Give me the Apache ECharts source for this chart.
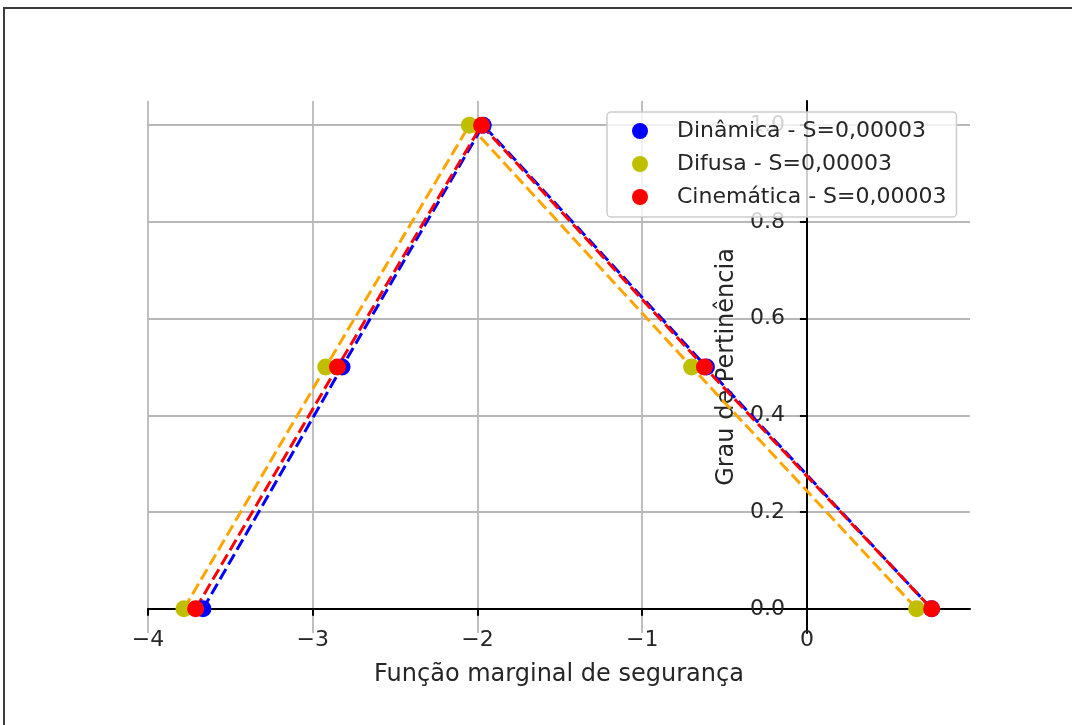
<!DOCTYPE html>
<html>
<head>
<meta charset="utf-8">
<script src="https://cdn.jsdelivr.net/npm/echarts@6/dist/echarts.min.js"></script>
<style>
  html, body { margin: 0; padding: 0; background: #ffffff; }
  #chart { width: 1072px; height: 725px; }
</style>
</head>
<body>
<div id="chart"></div>
<script>
// Tick positions on both axes
const xTicks = [-4, -3, -2, -1, 0];
const yTicks = [0, 0.2, 0.4, 0.6, 0.8, 1.0];

// Triangular membership functions: [margin function value, membership degree]
const dinamica   = [[-3.666, 0], [-2.822, 0.5], [-1.965, 1], [-0.610, 0.5], [0.757, 0]];
const difusa     = [[-3.782, 0], [-2.921, 0.5], [-2.049, 1], [-0.700, 0.5], [0.666, 0]];
const cinematica = [[-3.711, 0], [-2.850, 0.5], [-1.975, 1], [-0.622, 0.5], [0.757, 0]];

const legendNames = ['Dinâmica - S=0,00003', 'Difusa - S=0,00003', 'Cinemática - S=0,00003'];

const FONT = 'DejaVu Sans';
const TEXT = '#262626';
const GRID = '#b8b8b8';

// Plot area and data ranges
const GRID_BOX = { left: 148, right: 102, top: 101, bottom: 92 };
const X_RANGE = [-4, 0.99];
const Y_RANGE = [-0.05, 1.05];

const chart = echarts.init(document.getElementById('chart'), null, { renderer: 'canvas' });

// Spines cross at the origin: shift each axis from the plot edge onto the zero line
const plotW = 1072 - GRID_BOX.left - GRID_BOX.right;
const plotH = 725 - GRID_BOX.top - GRID_BOX.bottom;
const yAxisShift = -plotW * (0 - X_RANGE[0]) / (X_RANGE[1] - X_RANGE[0]);
const xAxisShift = -plotH * (0 - Y_RANGE[0]) / (Y_RANGE[1] - Y_RANGE[0]);

function dashed(name, data, color) {
  return {
    type: 'line', name: name, data: data, z: 2,
    symbol: 'none', silent: true,
    lineStyle: { color: color, width: 3, type: [12, 5] },
    animation: false
  };
}
function dots(name, data, color) {
  return {
    type: 'scatter', name: name, data: data, z: 3,
    symbol: 'circle', symbolSize: 17,
    itemStyle: { color: color, opacity: 1 },
    animation: false
  };
}

chart.setOption({
  animation: false,
  backgroundColor: '#ffffff',
  textStyle: { fontFamily: FONT },
  graphic: [{
    type: 'rect', silent: true, z: -10,
    shape: { x: 4, y: 8, width: 1200, height: 900 },
    style: { fill: 'none', stroke: '#3c3c3c', lineWidth: 2 }
  }],
  grid: Object.assign({ containLabel: false, outerBoundsMode: 'none' }, GRID_BOX),
  xAxis: {
    type: 'value', min: X_RANGE[0], max: X_RANGE[1],
    position: 'bottom', offset: xAxisShift,
    name: 'Função marginal de segurança',
    nameLocation: 'middle', nameGap: 54,
    nameTextStyle: { fontFamily: FONT, fontSize: 24, color: TEXT },
    axisLine: { onZero: false, lineStyle: { color: '#000', width: 2 } },
    axisTick: { customValues: xTicks, length: 7, lineStyle: { color: '#000', width: 2 } },
    axisLabel: {
      customValues: xTicks, margin: 20, fontFamily: FONT, fontSize: 22, color: TEXT,
      formatter: v => (v < 0 ? '\u2212' + Math.abs(v) : String(v))
    },
    splitLine: { show: true, lineStyle: { color: GRID, width: 1.8 } }
  },
  yAxis: {
    type: 'value', min: Y_RANGE[0], max: Y_RANGE[1],
    position: 'left', offset: yAxisShift,
    name: 'Grau de Pertinência',
    nameLocation: 'middle', nameGap: 66, nameRotate: 90,
    nameTextStyle: { fontFamily: FONT, fontSize: 24, color: TEXT },
    axisLine: { onZero: false, lineStyle: { color: '#000', width: 2 } },
    axisTick: { customValues: yTicks, length: 7, lineStyle: { color: '#000', width: 2 } },
    axisLabel: {
      customValues: yTicks, margin: 22, fontFamily: FONT, fontSize: 22, color: TEXT,
      formatter: v => v.toFixed(1)
    },
    splitLine: { show: true, lineStyle: { color: GRID, width: 1.8 } }
  },
  legend: {
    data: legendNames,
    orient: 'vertical', left: 607, top: 112,
    icon: 'circle', itemWidth: 16, itemHeight: 16, itemGap: 11,
    padding: [8, 10, 9, 25],
    backgroundColor: 'rgba(255,255,255,0.8)',
    borderColor: '#cccccc', borderWidth: 1.5, borderRadius: 4,
    textStyle: { fontFamily: FONT, fontSize: 22, color: TEXT, lineHeight: 22, padding: [0, 0, 0, 24] },
    selectedMode: false
  },
  series: [
    dashed('linha dinâmica', dinamica, '#0000ff'),
    dashed('linha difusa', difusa, '#ffa500'),
    dashed('linha cinemática', cinematica, '#ff0000'),
    dots(legendNames[0], dinamica, '#0000ff'),
    dots(legendNames[1], difusa, '#bfbf00'),
    dots(legendNames[2], cinematica, '#ff0000')
  ]
});
</script>
</body>
</html>
